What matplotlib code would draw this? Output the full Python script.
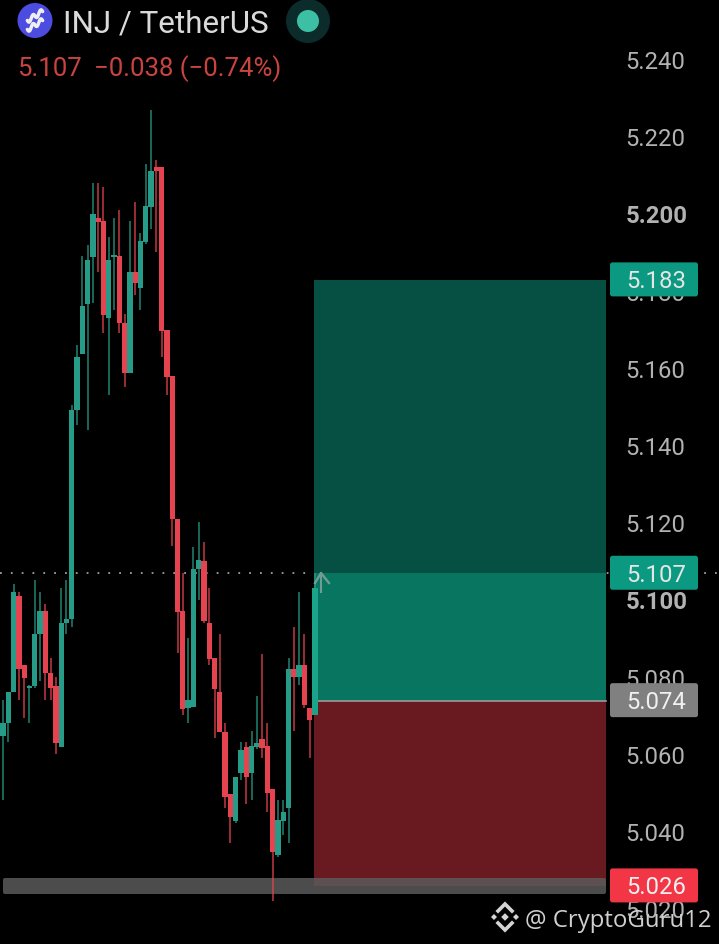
#!/usr/bin/env python3
"""INJ / TetherUS candlestick chart with a long position tool, dark theme."""

import matplotlib
matplotlib.use('Agg')
import matplotlib.pyplot as plt
from matplotlib.patches import Circle, FancyBboxPatch, Polygon, Rectangle
import numpy as np

# candles, oldest first
opens = [5.0649, 5.0682, 5.0763, 5.1011, 5.0833, 5.0773, 5.0778, 5.0913, 5.0973, 5.0812,
         5.0778, 5.0620, 5.0941, 5.0952, 5.1493, 5.1638, 5.1768, 5.1890, 5.1991, 5.1983,
         5.1732, 5.1890, 5.1892, 5.1719, 5.1589, 5.1851, 5.1809, 5.1928, 5.2019, 5.2123,
         5.2123, 5.1701, 5.1581, 5.1211, 5.0973, 5.0721, 5.0724, 5.1081, 5.1102, 5.0941,
         5.0851, 5.0763, 5.0659, 5.0498, 5.0428, 5.0553, 5.0620, 5.0553, 5.0620, 5.0641,
         5.0623, 5.0511, 5.0340, 5.0428, 5.0462, 5.0822, 5.0802, 5.0833, 5.0721, 5.0703]
highs = [5.0742, 5.0763, 5.1042, 5.1022, 5.0833, 5.0781, 5.1053, 5.1022, 5.0991, 5.0851,
         5.0802, 5.1032, 5.1053, 5.1506, 5.1662, 5.1892, 5.1921, 5.2081, 5.2081, 5.2071,
         5.1941, 5.1991, 5.2011, 5.1742, 5.1983, 5.2032, 5.1952, 5.2131, 5.2270, 5.2141,
         5.2123, 5.1701, 5.1581, 5.1211, 5.1071, 5.0903, 5.1138, 5.1203, 5.1151, 5.1032,
         5.0851, 5.0913, 5.0682, 5.0498, 5.0542, 5.0633, 5.0633, 5.0662, 5.0752, 5.0861,
         5.0682, 5.0511, 5.0483, 5.0483, 5.0851, 5.0931, 5.1022, 5.0913, 5.0721, 5.1071]
lows = [5.0483, 5.0633, 5.0763, 5.0742, 5.0695, 5.0682, 5.0773, 5.0791, 5.0742, 5.0742,
        5.0602, 5.0620, 5.0913, 5.0931, 5.1454, 5.1638, 5.1441, 5.1770, 5.1851, 5.1693,
        5.1532, 5.1752, 5.1693, 5.1553, 5.1589, 5.1791, 5.1752, 5.1923, 5.1962, 5.1903,
        5.1631, 5.1532, 5.1141, 5.0864, 5.0703, 5.0682, 5.0724, 5.1001, 5.0941, 5.0833,
        5.0644, 5.0659, 5.0462, 5.0372, 5.0423, 5.0535, 5.0473, 5.0483, 5.0615, 5.0592,
        5.0452, 5.0221, 5.0335, 5.0392, 5.0372, 5.0662, 5.0781, 5.0721, 5.0592, 5.0703]
closes = [5.0682, 5.0763, 5.1022, 5.0822, 5.0799, 5.0778, 5.0913, 5.0973, 5.0812, 5.0773,
          5.0631, 5.0941, 5.0952, 5.1493, 5.1631, 5.1763, 5.1882, 5.2001, 5.1980, 5.1739,
          5.1882, 5.1895, 5.1719, 5.1589, 5.1851, 5.1822, 5.1931, 5.2022, 5.2112, 5.2112,
          5.1698, 5.1579, 5.1211, 5.0970, 5.0719, 5.0742, 5.1081, 5.1105, 5.0947, 5.0848,
          5.0770, 5.0659, 5.0491, 5.0439, 5.0542, 5.0612, 5.0542, 5.0623, 5.0631, 5.0618,
          5.0501, 5.0348, 5.0431, 5.0452, 5.0822, 5.0802, 5.0833, 5.0729, 5.0690, 5.1032]

# price axis
price_ticks = [5.240, 5.220, 5.200, 5.180, 5.160, 5.140, 5.120, 5.100, 5.080, 5.060, 5.040, 5.020]
bold_ticks = ['5.200', '5.100']

# position tool levels
target_price = 5.183
last_price = 5.107
entry_price = 5.074
stop_price = 5.026

GREEN = '#269c88'
RED = '#e5434f'
W, H = 719, 944

fig = plt.figure(figsize=(W / 100, H / 100), dpi=100, facecolor='black')
plt.rcParams['font.family'] = ['Roboto', 'DejaVu Sans']

ax = fig.add_axes([0, 0, 1, 1], facecolor='black')
ax.set_xlim(-0.567, 135.4)
ax.set_ylim(5.01098, 5.25554)
for s in ax.spines.values():
    s.set_visible(False)
ax.xaxis.set_visible(False)

# price scale sits inside the figure, on the right
ax.yaxis.tick_right()
ax.set_yticks(price_ticks)
ax.set_yticklabels([f'{p:.3f}' for p in price_ticks])
ax.tick_params(axis='y', length=0, pad=-67.2, labelsize=17.2, labelcolor='#b2b2b2')
for lab in ax.get_yticklabels():
    lab.set_verticalalignment('center_baseline')
    if lab.get_text() in bold_ticks:
        lab.set_fontweight('bold')

# candles
idx = np.arange(len(opens))
o, h, l, c = map(np.array, (opens, highs, lows, closes))
colors = [GREEN if up else RED for up in c >= o]
ax.vlines(idx, l, h, colors=colors, linewidth=1.1, alpha=0.85, zorder=3)
ax.bar(idx, np.abs(c - o), bottom=np.minimum(o, c), width=1.0, color=colors,
       linewidth=0, zorder=3)

# last price line
ax.axhline(last_price, color='#a0a0a0', linestyle=(0, (1, 5)), linewidth=1.3, zorder=2)

# position tool
tool_left, tool_right = 58.8, 114.0
tool_w = tool_right - tool_left
ax.add_patch(Rectangle((tool_left, last_price), tool_w, target_price - last_price,
                       facecolor='#064f43', edgecolor='none', zorder=2.5))
ax.add_patch(Rectangle((tool_left, entry_price), tool_w, last_price - entry_price,
                       facecolor='#07755f', edgecolor='none', zorder=2.5))
ax.add_patch(Rectangle((tool_left, stop_price), tool_w, entry_price - stop_price,
                       facecolor='#691a20', edgecolor='none', zorder=2.5))
ax.plot([tool_left, tool_right], [entry_price, entry_price], color='#9a9a9a', lw=1.2, zorder=2.6)
# redraw the last candle on top of the tool
ax.bar(idx[-1], c[-1] - o[-1], bottom=o[-1], width=1.0, color='#1aa58a', linewidth=0, zorder=3)

# pixel-space layer for the chrome around the chart
pix = fig.add_axes([0, 0, 1, 1], facecolor='none')
pix.set_xlim(0, W)
pix.set_ylim(H, 0)
pix.axis('off')

# grey band at the bottom, under the candles
ax.add_patch(FancyBboxPatch((3, 878), 603, 16, boxstyle='round,pad=0,rounding_size=2',
                            transform=pix.transData, facecolor='#5a5a5a', edgecolor='none',
                            alpha=0.85, zorder=2.8))

# arrow at the position tool's current price
pix.plot([315, 321, 329], [583, 573, 583], color='#6f9c93', lw=1.7, zorder=2)
pix.plot([321, 321], [573, 592], color='#6f9c93', lw=1.5, zorder=2)


def price_to_px(price):
    return pix.transData.inverted().transform(ax.transData.transform((0, price)))[1]


# price labels
for price, txt, col, tcol in [(target_price, '5.183', '#0b9981', '#e6e6e6'),
                              (last_price, '5.107', '#0b9981', '#e6e6e6'),
                              (entry_price, '5.074', '#808080', '#f0f0f0'),
                              (stop_price, '5.026', '#f23645', '#f0f0f0')]:
    ypx = price_to_px(price) - 0.6
    pix.add_patch(FancyBboxPatch((610, ypx - 17), 88, 34, boxstyle='round,pad=0,rounding_size=2.5',
                                 facecolor=col, edgecolor='none', zorder=5))
    pix.text(656, ypx, txt, ha='center', va='center_baseline', fontsize=17.2, color=tcol, zorder=6)

# header
pix.add_patch(Circle((35, 20.5), 17.5, facecolor='#4c4ce0', edgecolor='none'))
swirl_x = np.linspace(-8.5, 8.5, 30)
for dy in (-4.5, 4.5):
    swirl_y = -0.55 * swirl_x + dy + 2.6 * np.sin(swirl_x * 0.75)
    pix.plot(35 + swirl_x * 0.9, 20.5 + swirl_y, color='#eeeeee', lw=2.5, solid_capstyle='round')
pix.text(63, 21, 'INJ / TetherUS', fontsize=22.6, color='#dadada', ha='left', va='center_baseline')
pix.add_patch(Circle((308, 21), 22, facecolor='#0b2c2a', edgecolor='none'))
pix.add_patch(Circle((308, 21), 11, facecolor='#3dbfa5', edgecolor='none'))
pix.text(17, 66, '5.107', fontsize=18.5, color='#c9433f', ha='left', va='center_baseline')
pix.text(94, 66, '\u22120.038 (\u22120.74%)', fontsize=18.5, color='#c9433f',
         ha='left', va='center_baseline')

# watermark
for ys, sign in [(911, -1), (923, 1)]:
    pix.plot([498, 505, 512], [ys, ys + sign * 7, ys], color='#d4d4d4', lw=2.6, zorder=7,
             solid_joinstyle='miter')
for cx, cy, r in [(494, 917, 3), (516, 917, 3), (505, 917, 3.8)]:
    pix.add_patch(Polygon([(cx - r, cy), (cx, cy - r), (cx + r, cy), (cx, cy + r)],
                          facecolor='#d4d4d4', edgecolor='none', zorder=7))
pix.text(525, 918, '@ CryptoGuru12', family=['Open Sans', 'DejaVu Sans'], fontsize=17.3,
         color='#cfcfcf', ha='left', va='center_baseline', zorder=7)

fig.savefig('out.png', dpi=100, facecolor='black')
